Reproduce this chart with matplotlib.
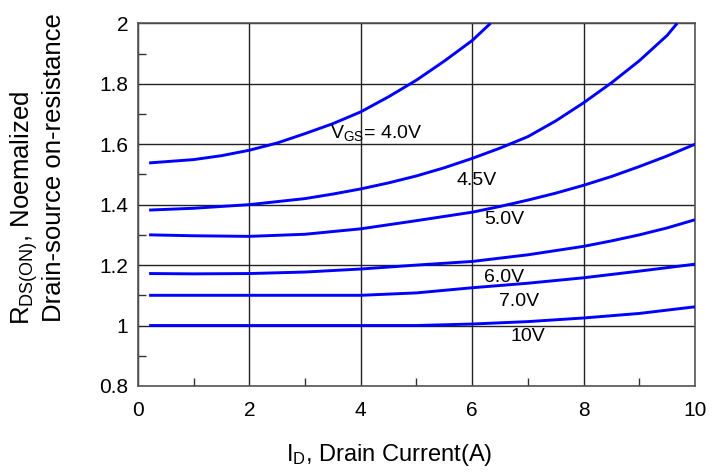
import matplotlib
matplotlib.use("Agg")
import matplotlib.pyplot as plt
from matplotlib.ticker import MultipleLocator

plt.rcParams['font.family'] = ['Liberation Sans', 'DejaVu Sans']
plt.rcParams['mathtext.fontset'] = 'custom'
plt.rcParams['mathtext.rm'] = 'Liberation Sans'
plt.rcParams['mathtext.it'] = 'Liberation Sans'

# Data
x_40 = [0.2, 1, 1.5, 2, 2.5, 3, 3.5, 4, 4.5, 5, 5.5, 6, 6.33]
y_40 = [1.538, 1.549, 1.562, 1.58, 1.604, 1.635, 1.668, 1.707, 1.757, 1.812, 1.875, 1.943, 2.0]
x_45 = [0.2, 1, 2, 3, 3.5, 4, 4.5, 5, 5.5, 6, 6.5, 7, 7.5, 8, 8.5, 9, 9.5, 9.68]
y_45 = [1.382, 1.388, 1.40, 1.42, 1.435, 1.452, 1.472, 1.495, 1.522, 1.553, 1.587, 1.625,
        1.677, 1.737, 1.803, 1.876, 1.96, 2.0]
x_50 = [0.2, 1, 2, 3, 4, 5, 6, 6.5, 7, 7.5, 8, 8.5, 9, 9.5, 10]
y_50 = [1.30, 1.297, 1.295, 1.302, 1.32, 1.347, 1.375, 1.394, 1.415, 1.438, 1.464, 1.493,
        1.526, 1.561, 1.60]
x_60 = [0.2, 1, 2, 3, 4, 5, 6, 7, 8, 8.5, 9, 9.5, 10]
y_60 = [1.172, 1.171, 1.172, 1.177, 1.187, 1.20, 1.212, 1.234, 1.262, 1.28, 1.30, 1.323, 1.35]
x_70 = [0.2, 1, 2, 3, 4, 5, 6, 7, 8, 9, 10]
y_70 = [1.10, 1.10, 1.10, 1.10, 1.10, 1.108, 1.125, 1.14, 1.158, 1.18, 1.203]
x_10 = [0.2, 1, 2, 3, 4, 5, 6, 7, 8, 9, 10]
y_10 = [1.0, 1.0, 1.0, 1.0, 1.0, 1.0, 1.005, 1.013, 1.025, 1.04, 1.062]

curve_labels = [r'V$_{\mathrm{GS}}$= 4.0V', '4.5V', '5.0V', '6.0V', '7.0V', '10V']
label_x = [3.45, 5.71, 6.21, 6.21, 6.48, 6.68]
label_y = [1.637, 1.481, 1.352, 1.16, 1.081, 0.965]

x_ticks = [0, 2, 4, 6, 8, 10]
y_ticks = [0.8, 1.0, 1.2, 1.4, 1.6, 1.8, 2.0]
y_tick_labels = ['0.8', '1', '1.2', '1.4', '1.6', '1.8', '2']

fig = plt.figure(figsize=(7.27, 4.75), dpi=100)
ax = fig.add_axes([0.1898, 0.1874, 0.956 - 0.1898, 0.951 - 0.1874])

blue = '#0000ff'
for xs, ys in [(x_40, y_40), (x_45, y_45), (x_50, y_50), (x_60, y_60), (x_70, y_70), (x_10, y_10)]:
    ax.plot(xs, ys, color=blue, lw=2.1, solid_capstyle='butt', solid_joinstyle='round', zorder=3)

ax.set_xlim(0, 10)
ax.set_ylim(0.8, 2.0)
ax.set_xticks(x_ticks)
ax.set_xticklabels([str(v) for v in x_ticks])
ax.set_yticks(y_ticks)
ax.set_yticklabels(y_tick_labels)
ax.xaxis.set_minor_locator(MultipleLocator(1))
ax.yaxis.set_minor_locator(MultipleLocator(0.1))
ax.tick_params(which='major', direction='in', length=0, labelsize=15, colors='black')
ax.tick_params(axis='x', which='major', pad=11)
ax.tick_params(axis='y', which='major', pad=7)
ax.tick_params(which='minor', direction='in', length=6, width=1, color='#333333')
ax.grid(True, which='major', color='#222222', lw=1.0)
for s in ax.spines.values():
    s.set_color('#555555')
    s.set_linewidth(1.2)

for t, lx, ly in zip(curve_labels, label_x, label_y):
    ax.text(lx, ly, t, fontsize=14, ha='left', va='center', color='black', zorder=4)

fig.text(0.033, 0.316, r'R$_{\mathrm{DS(ON)}}$, Noemalized', rotation=90,
         ha='center', va='bottom', fontsize=18.5)
fig.text(0.074, 0.322, 'Drain-source on-resistance', rotation=90,
         ha='center', va='bottom', fontsize=18.5)
fig.text(0.536, 0.042, r'I$_{\mathrm{D}}$, Drain Current(A)', ha='center', va='center', fontsize=17)

fig.savefig('out.png', dpi=100)
